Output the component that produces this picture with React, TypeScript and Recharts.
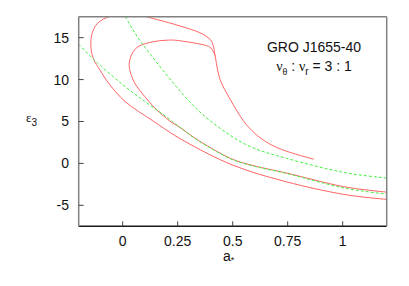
import React from 'react';
import { LineChart, Line, XAxis, YAxis } from 'recharts';

type Pt = { x: number; y: number };

// outer red branch: tail end -> merge -> big loop -> lowest red curve
const outerRed: Pt[] = [
  { x: 0.869, y: 0.5 }, { x: 0.8, y: 1.0 }, { x: 0.745, y: 1.45 }, { x: 0.7, y: 1.9 },
  { x: 0.65, y: 2.6 }, { x: 0.6, y: 3.6 }, { x: 0.548, y: 5.1 }, { x: 0.488, y: 7.68 },
  { x: 0.442, y: 10.06 }, { x: 0.42, y: 12.85 },
  { x: 0.412, y: 14.0 }, { x: 0.397, y: 14.8 }, { x: 0.35, y: 15.6 }, { x: 0.26, y: 16.4 },
  { x: 0.15, y: 17.2 }, { x: 0.02, y: 18.0 }, { x: -0.053, y: 17.6 }, { x: -0.115, y: 16.7 },
  { x: -0.142, y: 15.2 }, { x: -0.143, y: 13.5 }, { x: -0.129, y: 12.25 }, { x: -0.106, y: 11.25 },
  { x: -0.061, y: 9.46 }, { x: 0.015, y: 7.29 }, { x: 0.136, y: 5.1 }, { x: 0.279, y: 2.68 },
  { x: 0.5, y: -0.2 }, { x: 0.745, y: -2.2 }, { x: 1.0, y: -3.67 }, { x: 1.2, y: -4.3 },
];

// inner red branch: merge point -> small loop -> middle red curve
const innerRed: Pt[] = [
  { x: 0.42, y: 12.85 }, { x: 0.412, y: 13.3 }, { x: 0.382, y: 14.04 }, { x: 0.26, y: 14.63 },
  { x: 0.2, y: 14.7 }, { x: 0.136, y: 14.5 }, { x: 0.075, y: 14.0 }, { x: 0.045, y: 13.2 },
  { x: 0.03, y: 12.05 }, { x: 0.033, y: 11.06 }, { x: 0.053, y: 9.67 }, { x: 0.091, y: 8.27 },
  { x: 0.151, y: 6.49 }, { x: 0.212, y: 5.1 }, { x: 0.26, y: 4.3 }, { x: 0.35, y: 2.65 },
  { x: 0.488, y: 0.62 }, { x: 0.6, y: -0.3 }, { x: 0.745, y: -1.15 }, { x: 1.0, y: -2.75 },
  { x: 1.2, y: -3.43 },
];

const lowerGreen: Pt[] = [
  { x: -0.2, y: 14.2 }, { x: -0.114, y: 11.96 }, { x: 0.0, y: 9.4 }, { x: 0.1, y: 7.4 },
  { x: 0.212, y: 5.3 }, { x: 0.26, y: 4.3 }, { x: 0.35, y: 2.6 }, { x: 0.488, y: 0.58 },
  { x: 0.6, y: -0.35 }, { x: 0.745, y: -1.2 }, { x: 1.0, y: -2.9 }, { x: 1.2, y: -3.67 },
];

const upperGreen: Pt[] = [
  { x: 0.012, y: 17.5 }, { x: 0.091, y: 14.2 }, { x: 0.273, y: 8.27 }, { x: 0.397, y: 5.1 },
  { x: 0.564, y: 2.2 }, { x: 0.745, y: 0.6 }, { x: 1.0, y: -1.05 }, { x: 1.2, y: -1.75 },
];

const xTicks = [0, 0.25, 0.5, 0.75, 1];
const yTicks = [-5, 0, 5, 10, 15];

const font = '"Liberation Sans", Arial, sans-serif';
const serif = '"Liberation Serif", serif';
const red = '#ff6464';
const green = '#44ee44';
const frame = '#808080';

// Catmull-Rom style smoothing that also works for loops (points taken in order)
function smooth(context: any) {
  let pts: number[][] = [];
  return {
    areaStart() {},
    areaEnd() {},
    lineStart() {
      pts = [];
    },
    point(x: number, y: number) {
      pts.push([+x, +y]);
    },
    lineEnd() {
      const n = pts.length;
      if (!n) return;
      context.moveTo(pts[0][0], pts[0][1]);
      for (let i = 0; i < n - 1; i++) {
        const p0 = pts[Math.max(i - 1, 0)];
        const p1 = pts[i];
        const p2 = pts[i + 1];
        const p3 = pts[Math.min(i + 2, n - 1)];
        context.bezierCurveTo(
          p1[0] + (p2[0] - p0[0]) / 6,
          p1[1] + (p2[1] - p0[1]) / 6,
          p2[0] - (p3[0] - p1[0]) / 6,
          p2[1] - (p3[1] - p1[1]) / 6,
          p2[0],
          p2[1],
        );
      }
    },
  };
}

export default function App() {
  const tickStyle = { fontSize: 14, fill: '#111', fontFamily: font };
  return (
    <div style={{ position: 'absolute', left: 0, top: 0, width: 409, height: 286, background: '#fff' }}>
      <LineChart
        width={409}
        height={286}
        margin={{ top: 15.7, right: 21.3, bottom: 29.7, left: 8.7 }}
      >
        <XAxis
          xAxisId="b"
          dataKey="x"
          type="number"
          domain={[-0.2, 1.2]}
          ticks={xTicks}
          allowDataOverflow
          height={30}
          tickSize={-5}
          tickMargin={15}
          tick={tickStyle}
          axisLine={{ stroke: '#1a1a1a', strokeWidth: 1.5 }}
          tickLine={{ stroke: '#444' }}
          tickFormatter={(v: number) => String(v)}
        />
        <XAxis
          xAxisId="t"
          orientation="top"
          dataKey="x"
          type="number"
          domain={[-0.2, 1.2]}
          ticks={xTicks}
          allowDataOverflow
          height={1}
          tickSize={-5}
          tick={false}
          axisLine={{ stroke: frame, strokeWidth: 1.5 }}
          tickLine={{ stroke: '#666' }}
        />
        <YAxis
          yAxisId="l"
          type="number"
          domain={[-7.5, 17.5]}
          ticks={yTicks}
          allowDataOverflow
          width={70}
          tickSize={-5}
          tickMargin={14.7}
          tick={tickStyle}
          axisLine={{ stroke: frame, strokeWidth: 1.5 }}
          tickLine={{ stroke: '#444' }}
        />
        <YAxis
          yAxisId="r"
          orientation="right"
          type="number"
          domain={[-7.5, 17.5]}
          ticks={yTicks}
          allowDataOverflow
          width={1}
          tickSize={-5}
          tick={false}
          axisLine={{ stroke: frame, strokeWidth: 1.5 }}
          tickLine={{ stroke: '#444' }}
        />
        <Line xAxisId="b" yAxisId="l" data={outerRed} dataKey="y" type={smooth as any} stroke={red} strokeWidth={1} dot={false} isAnimationActive={false} />
        <Line xAxisId="b" yAxisId="l" data={innerRed} dataKey="y" type={smooth as any} stroke={red} strokeWidth={1} dot={false} isAnimationActive={false} />
        <Line xAxisId="b" yAxisId="l" data={lowerGreen} dataKey="y" type={smooth as any} stroke={green} strokeWidth={1} strokeDasharray="3 2" dot={false} isAnimationActive={false} />
        <Line xAxisId="b" yAxisId="l" data={upperGreen} dataKey="y" type={smooth as any} stroke={green} strokeWidth={1} strokeDasharray="3 2" dot={false} isAnimationActive={false} />
      </LineChart>
      <svg width={409} height={286} style={{ position: 'absolute', left: 0, top: 0, pointerEvents: 'none' }}>
        <text x={314} y={51.5} textAnchor="middle" fontSize={14} fontFamily={font} fill="#111">
          GRO J1655-40
        </text>
        <text x={314} y={70.5} textAnchor="middle" fontSize={14} fontFamily={font} fill="#111">
          <tspan fontFamily={serif}>ν</tspan>
          <tspan fontSize={10} dy={4} fontFamily={serif}>θ</tspan>
          <tspan dy={-4}> : </tspan>
          <tspan fontFamily={serif}>ν</tspan>
          <tspan fontSize={10} dy={4}>r</tspan>
          <tspan dy={-4}> = 3 : 1</tspan>
        </text>
        <text x={26} y={122} fontSize={13} fontFamily={serif} fill="#111">
          ε<tspan fontSize={10} dy={4} fontFamily={font}>3</tspan>
        </text>
        <text x={223} y={261} fontSize={14} fontFamily={font} fill="#111">
          a<tspan fontSize={9} dy={2}>*</tspan>
        </text>
      </svg>
    </div>
  );
}
